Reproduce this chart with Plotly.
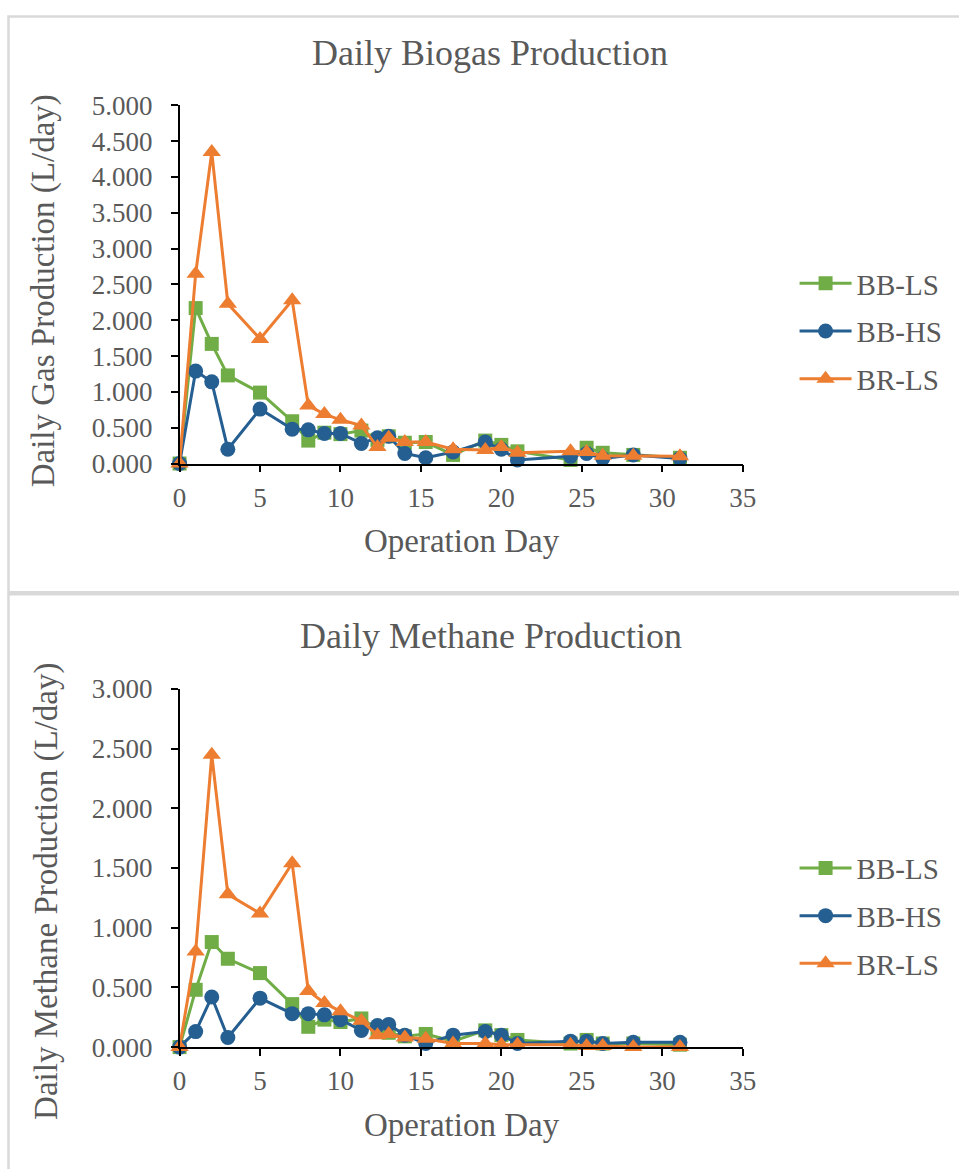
import plotly.graph_objects as go

# Operation days of the sampling points
days = [0, 1, 2, 3, 5, 7, 8, 9, 10, 11.3, 12.3, 13, 14, 15.3, 17, 19, 20, 21,
        24.3, 25.3, 26.3, 28.2, 31.1]

# Daily biogas production (L/day)
biogas_bb_ls = [0.00, 2.17, 1.67, 1.23, 0.99, 0.59, 0.32, 0.43, 0.41, 0.46, 0.33, 0.38,
                0.29, 0.30, 0.12, 0.32, 0.26, 0.17, 0.05, 0.22, 0.15, 0.12, 0.08]
biogas_bb_hs = [0.00, 1.29, 1.14, 0.20, 0.76, 0.48, 0.47, 0.42, 0.42, 0.28, 0.36, 0.38,
                0.14, 0.08, 0.16, 0.30, 0.20, 0.05, 0.10, 0.14, 0.07, 0.12, 0.07]
biogas_br_ls = [0.00, 2.65, 4.35, 2.23, 1.74, 2.28, 0.81, 0.69, 0.61, 0.53, 0.23, 0.36,
                0.30, 0.30, 0.20, 0.19, 0.23, 0.15, 0.17, 0.16, 0.11, 0.11, 0.10]

# Daily methane production (L/day)
methane_bb_ls = [0.00, 0.48, 0.88, 0.74, 0.62, 0.36, 0.17, 0.23, 0.21, 0.24, 0.15, 0.12,
                 0.09, 0.11, 0.05, 0.14, 0.10, 0.06, 0.03, 0.06, 0.03, 0.03, 0.02]
methane_bb_hs = [0.00, 0.13, 0.42, 0.08, 0.41, 0.28, 0.28, 0.27, 0.23, 0.14, 0.18, 0.19,
                 0.10, 0.03, 0.10, 0.13, 0.10, 0.03, 0.05, 0.05, 0.03, 0.04, 0.04]
methane_br_ls = [0.00, 0.80, 2.45, 1.28, 1.12, 1.54, 0.47, 0.37, 0.30, 0.22, 0.10, 0.11,
                 0.08, 0.07, 0.03, 0.03, 0.02, 0.02, 0.02, 0.01, 0.01, 0.00, 0.00]

series_names = ["BB-LS", "BB-HS", "BR-LS"]
series_colors = ["#70ad47", "#255e91", "#ed7d31"]
series_symbols = ["square", "circle", "triangle-up"]
series_sizes = [14, 15, 16]

W, H = 959, 1169
FONT = "Liberation Serif"
TEXT = "#595959"

# The page places the figure slightly inset and scaled; these factors map
# on-screen pixel positions back to figure coordinates.
SX, OX = 0.9805, 5.5
SY, OY = 0.9767, 13.4


def px_x(p):
    return ((p - OX) / SX) / W


def px_y(p):
    return 1 - ((p - OY) / SY) / H


fig = go.Figure()

panels = [
    dict(values=[biogas_bb_ls, biogas_bb_hs, biogas_br_ls], xa="x", ya="y", leg="legend"),
    dict(values=[methane_bb_ls, methane_bb_hs, methane_br_ls], xa="x2", ya="y2", leg="legend2"),
]

for pi, panel in enumerate(panels):
    for i, vals in enumerate(panel["values"]):
        fig.add_trace(go.Scatter(
            x=days, y=vals, name=series_names[i],
            mode="lines+markers",
            line=dict(color=series_colors[i], width=3),
            marker=dict(symbol=series_symbols[i], size=series_sizes[i],
                        color=series_colors[i], line=dict(width=0)),
            xaxis=panel["xa"], yaxis=panel["ya"], legend=panel["leg"],
            legendgroup=f"{pi}-{i}", cliponaxis=False,
        ))

axis_common = dict(
    showline=True, linecolor="black", linewidth=1.5,
    ticks="outside", ticklen=7, tickwidth=1.5, tickcolor="black",
    showgrid=False, zeroline=False,
    tickfont=dict(family=FONT, size=27, color=TEXT),
)
x_common = dict(range=[0, 35], dtick=5, tick0=0, ticklabelstandoff=2, **axis_common)
y_common = dict(dtick=0.5, tick0=0, tickformat=".3f", ticklabelstandoff=13, **axis_common)

x_dom = [px_x(178.5), px_x(743)]
legend_common = dict(xanchor="left", yanchor="top",
                     font=dict(family=FONT, size=29, color=TEXT),
                     tracegroupgap=7, itemwidth=52, bgcolor="rgba(0,0,0,0)")
fig.update_layout(
    width=W, height=H,
    margin=dict(l=0, r=0, t=0, b=0),
    paper_bgcolor="white", plot_bgcolor="white",
    xaxis=dict(domain=x_dom, anchor="y", **x_common),
    yaxis=dict(domain=[px_y(463), px_y(104)], range=[0, 5], anchor="x", **y_common),
    xaxis2=dict(domain=x_dom, anchor="y2", **x_common),
    yaxis2=dict(domain=[px_y(1048), px_y(689)], range=[0, 3], anchor="x2", **y_common),
    legend=dict(x=px_x(795), y=px_y(257), **legend_common),
    legend2=dict(x=px_x(795), y=px_y(843), **legend_common),
    showlegend=True,
)

# Chart titles and axis titles
texts = [
    ("Daily Biogas Production", 490, 51, 36, 0),
    ("Daily Methane Production", 491, 636, 36, 0),
    ("Operation Day", 462, 541, 33, 0),
    ("Operation Day", 462, 1126, 33, 0),
    ("Daily Gas Production (L/day)", 43, 290, 33, -90),
    ("Daily Methane Production (L/day)", 45, 892, 33, -90),
]
for txt, cx, cy, size, ang in texts:
    fig.add_annotation(
        text=txt, x=px_x(cx), y=px_y(cy), xref="paper", yref="paper",
        xanchor="center", yanchor="middle", showarrow=False, textangle=ang,
        font=dict(family=FONT, size=size, color=TEXT),
    )

# Chart area frames
frame = dict(type="rect", xref="paper", yref="paper",
             line=dict(color="#d9d9d9", width=2.5), fillcolor="rgba(0,0,0,0)", layer="below")
fig.add_shape(x0=1.5 / W, x1=1.05, y0=px_y(592), y1=1 - 1.5 / H, **frame)
fig.add_shape(x0=1.5 / W, x1=1.05, y0=-0.05, y1=px_y(594), **frame)

fig.write_html("out.html")
